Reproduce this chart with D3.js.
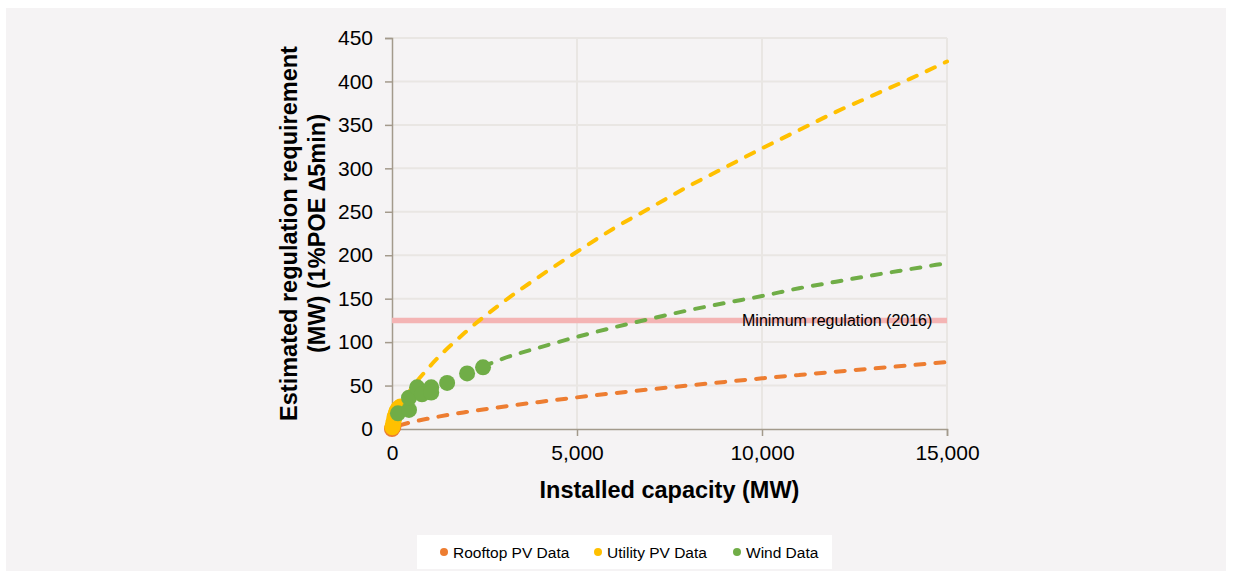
<!DOCTYPE html>
<html>
<head>
<meta charset="utf-8">
<script src="https://cdn.jsdelivr.net/npm/d3@7"></script>
<style>
  body { margin: 0; background: #ffffff; }
  svg { display: block; font-family: "Liberation Sans", Arial, sans-serif; }
</style>
</head>
<body>
<svg id="chart"></svg>
<script>
var width = 1233;
var height = 579;

// scatter data, [installed MW, requirement MW]
var rooftopData = [[0, 0], [10, 1], [25, 2], [40, 3]];
var utilityData = [[10, 2], [30, 6], [50, 10], [70, 14], [100, 18], [130, 21], [170, 24], [230, 26]];
var windData = [[160, 18], [460, 22], [460, 36], [680, 48], [810, 40], [1060, 48], [1060, 42], [1490, 53], [2030, 64], [2460, 71]];

// trend lines
var utilityTrendX = [100, 500, 1000, 2000, 3000, 4000, 5000, 6000, 7000, 8000, 9000, 10000, 11000, 12000, 13000, 14000, 15000];
var utilityTrendY = [17, 45, 71, 112, 146, 176, 204, 231, 255, 279, 301, 323, 344, 365, 384, 403, 423];
var windTrendX = [2460, 3000, 4000, 5000, 6000, 7000, 8000, 9000, 10000, 11000, 12000, 13000, 14000, 15000];
var windTrendY = [72, 81, 94, 106, 117, 127, 136.5, 145, 153, 162, 169.5, 177, 184, 191];
var rooftopTrendX = [200, 500, 1000, 2000, 3000, 4000, 5000, 6000, 7000, 8000, 9000, 10000, 11000, 12000, 13000, 14000, 15000];
var rooftopTrendY = [4.1, 7.6, 12.2, 19.5, 25.7, 31.2, 36.4, 41.2, 45.7, 50, 54.2, 58.3, 62.2, 66, 69.7, 73.3, 77];

var minRegulation = 125;
var minRegulationLabel = "Minimum regulation (2016)";

var xTicks = [0, 5000, 10000, 15000];
var yTicks = [0, 50, 100, 150, 200, 250, 300, 350, 400, 450];

var seriesNames = ["Rooftop PV Data", "Utility PV Data", "Wind Data"];
var seriesColors = ["#ed7d31", "#ffc000", "#70ad47"];

var svg = d3.select("#chart")
    .attr("width", width)
    .attr("height", height);

// grey panel
svg.append("rect")
    .attr("x", 6).attr("y", 8)
    .attr("width", 1220).attr("height", 563)
    .attr("fill", "#f5f3f4");

var x = d3.scaleLinear().domain([0, 15000]).range([392, 947]);
var y = d3.scaleLinear().domain([0, 450]).range([429, 38]);

var grid = svg.append("g");
grid.selectAll(".hgrid")
    .data(yTicks.filter(function (d) { return d > 0; }))
    .enter().append("line")
    .attr("x1", x(0)).attr("x2", x(15000))
    .attr("y1", function (d) { return y(d); })
    .attr("y2", function (d) { return y(d); })
    .attr("stroke", "#e9e6e3")
    .attr("stroke-width", 2);
grid.selectAll(".vgrid")
    .data(xTicks.filter(function (d) { return d > 0; }))
    .enter().append("line")
    .attr("x1", function (d) { return x(d); })
    .attr("x2", function (d) { return x(d); })
    .attr("y1", y(0)).attr("y2", y(450))
    .attr("stroke", "#e9e6e3")
    .attr("stroke-width", 2);

// axes
var xAxis = svg.append("g")
    .attr("transform", "translate(0," + y(0) + ")")
    .call(d3.axisBottom(x).tickValues(xTicks).tickFormat(d3.format(",")).tickSizeOuter(0).tickSize(7).tickPadding(9));
var yAxis = svg.append("g")
    .attr("transform", "translate(" + x(0) + ",0)")
    .call(d3.axisLeft(y).tickValues(yTicks).tickSizeOuter(0).tickSize(7).tickPadding(12));

[xAxis, yAxis].forEach(function (a) {
    a.select(".domain").attr("stroke", "#a39a8c").attr("stroke-width", 1.5);
    a.selectAll(".tick line").attr("stroke", "#a39a8c").attr("stroke-width", 1.5);
    a.selectAll(".tick text")
        .attr("fill", "#000")
        .style("font-size", "21px")
        .style("font-family", "Liberation Sans, Arial, sans-serif");
});

// minimum regulation line
svg.append("line")
    .attr("x1", x(0)).attr("x2", x(15000))
    .attr("y1", y(minRegulation)).attr("y2", y(minRegulation))
    .attr("stroke", "#f4b4b4")
    .attr("stroke-width", 5.5);

// trend lines
var line = d3.line()
    .x(function (d) { return x(d[0]); })
    .y(function (d) { return y(d[1]); })
    .curve(d3.curveMonotoneX);

var trends = [
    { xs: rooftopTrendX, ys: rooftopTrendY, color: seriesColors[0] },
    { xs: utilityTrendX, ys: utilityTrendY, color: seriesColors[1] },
    { xs: windTrendX, ys: windTrendY, color: seriesColors[2] }
];

svg.append("g").selectAll("path")
    .data(trends)
    .enter().append("path")
    .attr("d", function (t) {
        return line(t.xs.map(function (v, i) { return [v, t.ys[i]]; }));
    })
    .attr("fill", "none")
    .attr("stroke", function (t) { return t.color; })
    .attr("stroke-width", 4)
    .attr("stroke-linecap", "round")
    .attr("stroke-dasharray", "9,11");

// markers
var allData = [rooftopData, utilityData, windData];
allData.forEach(function (data, i) {
    svg.append("g").selectAll("circle")
        .data(data)
        .enter().append("circle")
        .attr("cx", function (d) { return x(d[0]); })
        .attr("cy", function (d) { return y(d[1]); })
        .attr("r", 8)
        .attr("fill", seriesColors[i]);
});

svg.append("text")
    .attr("x", 742).attr("y", 326)
    .style("font-size", "16px")
    .attr("fill", "#000")
    .text(minRegulationLabel);

// axis titles
svg.append("text")
    .attr("x", (x(0) + x(15000)) / 2)
    .attr("y", 498)
    .attr("text-anchor", "middle")
    .style("font-size", "23.5px")
    .style("font-weight", "bold")
    .text("Installed capacity (MW)");

var yTitle = svg.append("text")
    .attr("transform", "translate(297," + y(225) + ") rotate(-90)")
    .attr("text-anchor", "middle")
    .style("font-size", "23.5px")
    .style("font-weight", "bold");
yTitle.append("tspan").attr("x", 0).attr("y", 0).text("Estimated regulation requirement");
yTitle.append("tspan").attr("x", 0).attr("y", 28).text("(MW) (1%POE \u22065min)");

// legend
var legend = svg.append("g");
legend.append("rect")
    .attr("x", 417).attr("y", 535)
    .attr("width", 415).attr("height", 34)
    .attr("fill", "#ffffff");

var legendX = [444, 598, 737];
var items = legend.selectAll(".item")
    .data(seriesNames)
    .enter().append("g")
    .attr("transform", function (d, i) { return "translate(" + legendX[i] + ",552)"; });
items.append("circle")
    .attr("r", 4)
    .attr("fill", function (d, i) { return seriesColors[i]; });
items.append("text")
    .attr("x", 9)
    .attr("y", 5.5)
    .style("font-size", "15.5px")
    .text(function (d) { return d; });
</script>
</body>
</html>
